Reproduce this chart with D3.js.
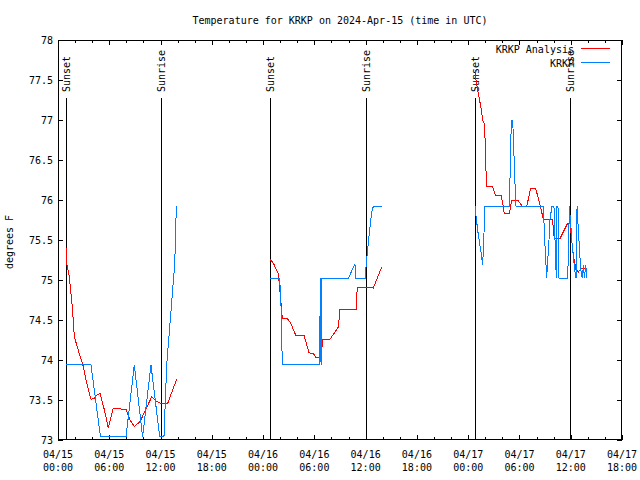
<!DOCTYPE html>
<html>
<head>
<meta charset="utf-8">
<script src="https://cdn.jsdelivr.net/npm/d3@7"></script>
<style>
  html, body { margin: 0; padding: 0; background: #fff; }
  svg { display: block; }
  text { font-family: "DejaVu Sans Mono", "Liberation Mono", monospace; font-size: 10px; fill: #000; }
</style>
</head>
<body>
<svg id="chart" width="640" height="480"></svg>
<script>
// ---------- data ----------
const chartTitle = "Temperature for KRKP on 2024-Apr-15 (time in UTC)";
const yAxisTitle = "degrees F";

// hours after 2024-04-15 00:00 UTC
const xTickHours = [0, 6, 12, 18, 24, 30, 36, 42, 48, 54, 60, 66];
const xTickDates = ["04/15","04/15","04/15","04/15","04/16","04/16","04/16","04/16","04/17","04/17","04/17","04/17"];
const xTickTimes = ["00:00","06:00","12:00","18:00","00:00","06:00","12:00","18:00","00:00","06:00","12:00","18:00"];
const yTickValues = [73, 73.5, 74, 74.5, 75, 75.5, 76, 76.5, 77, 77.5, 78];

const sunEventHours  = [0.94, 12.02, 24.81, 36.04, 48.84, 59.92];
const sunEventLabels = ["Sunset", "Sunrise", "Sunset", "Sunrise", "Sunset", "Sunrise"];

const seriesNames = ["KRKP Analysis", "KRKP"];
const seriesColors = ["#ff0000", "#0080ff"];

// KRKP Analysis (null = gap)
const analysisHours = [
  0.94, 1.02, 1.32, 1.67, 1.91, 2.46, 2.96, 3.36, 3.86, 4.25, 4.53, 4.92, 5.42, 5.89, 6.47, 7.96, 8.43, 8.93, 9.6, 10.97, 11.55, 12.02, 12.84, 13.89,
  14.0,
  24.81, 25.2, 25.78, 25.98, 26.25, 26.83, 27.23, 27.82, 28.79, 29.37, 29.88, 30.19, 30.78, 30.98, 31.83, 32.8, 33.0, 34.96, 35.0, 36.9, 37.88,
  38.0,
  48.84, 48.92, 49.19, 49.47, 49.7, 49.85, 49.97, 50.09, 50.17, 50.82, 51.2, 51.84, 52.04, 52.23, 52.82, 53.07, 53.87, 54.36, 54.85, 55.32, 55.88, 56.41, 56.79, 57.87, 58.07, 58.75, 59.6, 59.92, 60.12, 60.3, 60.62, 60.89, 61.29, 61.87
];
const analysisTemps = [
  75.40, 75.21, 75.04, 74.67, 74.29, 74.09, 73.92, 73.71, 73.51, 73.52, 73.56, 73.58, 73.38, 73.15, 73.40, 73.38, 73.25, 73.17, 73.23, 73.54, 73.48, 73.46, 73.46, 73.76,
  null,
  75.26, 75.21, 75.08, 74.85, 74.52, 74.52, 74.46, 74.31, 74.31, 74.09, 74.08, 74.03, 74.03, 74.26, 74.26, 74.41, 74.63, 74.63, 74.91, 74.90, 75.16,
  null,
  77.63, 77.50, 77.33, 77.17, 77.00, 76.96, 76.77, 76.35, 76.17, 76.17, 76.06, 76.06, 75.96, 75.83, 75.83, 75.99, 75.99, 75.92, 75.92, 76.15, 76.15, 75.94, 75.76, 75.76, 75.52, 75.52, 75.70, 75.71, 75.50, 75.31, 75.13, 75.10, 75.15, 75.15
];

// KRKP observations (null = gap)
const obsHours = [
  0.94, 3.86, 4.97, 7.96, 8.93, 9.9, 10.88, 11.9, 12.4, 12.72, 13.66, 13.85,
  14.0,
  24.81, 25.9, 26.06, 26.25, 30.55, 30.6, 30.65, 30.72, 30.78, 30.85, 33.97, 34.75, 34.87, 35.93, 36.13, 36.43, 36.71, 36.9, 37.88,
  38.0,
  48.84, 48.88, 48.92, 49.19, 49.47, 49.7, 49.85, 49.93, 52.82, 53.05, 53.21, 53.48, 53.6, 56.79, 56.99, 57.19, 57.26, 57.42, 57.58, 57.81, 58.04, 58.16, 58.31, 58.36, 58.51, 58.63, 59.6, 59.72, 59.84, 60.0, 60.12, 60.3, 60.5, 60.62, 60.74, 60.89, 61.09, 61.21, 61.36, 61.48, 61.6, 61.76, 61.87
];
const obsTemps = [
  73.94, 73.94, 73.04, 73.04, 73.94, 73.04, 73.94, 73.04, 73.04, 73.94, 75.20, 75.92,
  null,
  75.02, 75.02, 74.85, 73.94, 73.94, 74.55, 73.94, 75.02, 73.94, 75.02, 75.02, 75.20, 75.02, 75.02, 75.27, 75.58, 75.85, 75.92, 75.92,
  null,
  75.92, 75.92, 75.79, 75.56, 75.37, 75.19, 75.58, 75.92, 75.92, 77.00, 77.00, 76.20, 75.92, 75.92, 75.42, 75.02, 75.17, 75.42, 75.77, 75.92, 75.92, 75.50, 75.02, 75.92, 75.92, 75.02, 75.02, 75.25, 75.92, 75.71, 75.50, 75.30, 75.10, 75.02, 75.92, 75.63, 75.27, 75.10, 75.02, 75.19, 75.02, 75.19, 75.02
];

// ---------- layout ----------
const L = 58, R = 622, T = 40, B = 440;
const svg = d3.select("#chart");

const x = d3.scaleLinear().domain([0, 66]).range([L, R]);
const y = d3.scaleLinear().domain([73, 78]).range([B, T]);

// title
svg.append("text").attr("x", 340).attr("y", 24).attr("text-anchor", "middle").text(chartTitle);

// y axis title
svg.append("text")
  .attr("transform", "translate(13,242) rotate(-90)")
  .attr("text-anchor", "middle")
  .text(yAxisTitle);

// clip
svg.append("clipPath").attr("id", "plotclip")
  .append("rect").attr("x", L).attr("y", T).attr("width", R - L).attr("height", B - T);

// ticks (inward, mirrored)
const tickG = svg.append("g").attr("stroke", "#000").attr("shape-rendering", "crispEdges");
const minorHours = d3.range(0, 67, 2);
minorHours.forEach(h => {
  const major = h % 6 === 0;
  const len = major ? 5 : 3;
  const xp = Math.round(x(h)) + 0.5;
  tickG.append("line").attr("x1", xp).attr("x2", xp).attr("y1", B).attr("y2", B - len);
  tickG.append("line").attr("x1", xp).attr("x2", xp).attr("y1", T).attr("y2", T + len);
});
yTickValues.forEach(v => {
  const yp = Math.round(y(v)) + 0.5;
  tickG.append("line").attr("x1", L).attr("x2", L + 5).attr("y1", yp).attr("y2", yp);
  tickG.append("line").attr("x1", R).attr("x2", R - 5).attr("y1", yp).attr("y2", yp);
});

// y tick labels
svg.append("g").selectAll("text").data(yTickValues).join("text")
  .attr("x", 53).attr("y", d => y(d) + 4)
  .attr("text-anchor", "end")
  .text(d => d3.format("")(d));

// x tick labels (two lines)
const xl = svg.append("g").selectAll("g").data(xTickHours).join("g");
xl.append("text").attr("x", d => x(d)).attr("y", 458).attr("text-anchor", "middle")
  .text((d, i) => xTickDates[i]);
xl.append("text").attr("x", d => x(d)).attr("y", 471).attr("text-anchor", "middle")
  .text((d, i) => xTickTimes[i]);

// sunrise / sunset
const sunG = svg.append("g");
sunEventHours.forEach((h, i) => {
  const xp = Math.round(x(h)) + 0.5;
  sunG.append("line").attr("x1", xp).attr("x2", xp).attr("y1", 98).attr("y2", B)
    .attr("stroke", "#000").attr("shape-rendering", "crispEdges");
  sunG.append("text")
    .attr("transform", `translate(${xp},92) rotate(-90)`)
    .attr("text-anchor", "start")
    .attr("dy", "0.35em")
    .text(sunEventLabels[i]);
});

// data lines
const lineGen = d3.line()
  .defined(d => d[1] !== null)
  .x(d => x(d[0]))
  .y(d => y(d[1]));

const plotG = svg.append("g").attr("clip-path", "url(#plotclip)");
plotG.append("path")
  .datum(analysisHours.map((h, i) => [h, analysisTemps[i]]))
  .attr("fill", "none").attr("stroke", seriesColors[0]).attr("stroke-width", 1)
  .attr("shape-rendering", "crispEdges")
  .attr("d", lineGen);
plotG.append("path")
  .datum(obsHours.map((h, i) => [h, obsTemps[i]]))
  .attr("fill", "none").attr("stroke", seriesColors[1]).attr("stroke-width", 1)
  .attr("shape-rendering", "crispEdges")
  .attr("d", lineGen);

// legend
seriesNames.forEach((name, i) => {
  const cy = 49 + i * 14;
  svg.append("text").attr("x", 574).attr("y", cy + 4).attr("text-anchor", "end").text(name);
  svg.append("line").attr("x1", 581).attr("x2", 610).attr("y1", cy - 0.5).attr("y2", cy - 0.5)
    .attr("stroke", seriesColors[i]).attr("shape-rendering", "crispEdges");
});

// frame
svg.append("rect").attr("x", L + 0.5).attr("y", T + 0.5).attr("width", R - L - 1).attr("height", B - T - 1)
  .attr("fill", "none").attr("stroke", "#000").attr("shape-rendering", "crispEdges");
</script>
</body>
</html>
